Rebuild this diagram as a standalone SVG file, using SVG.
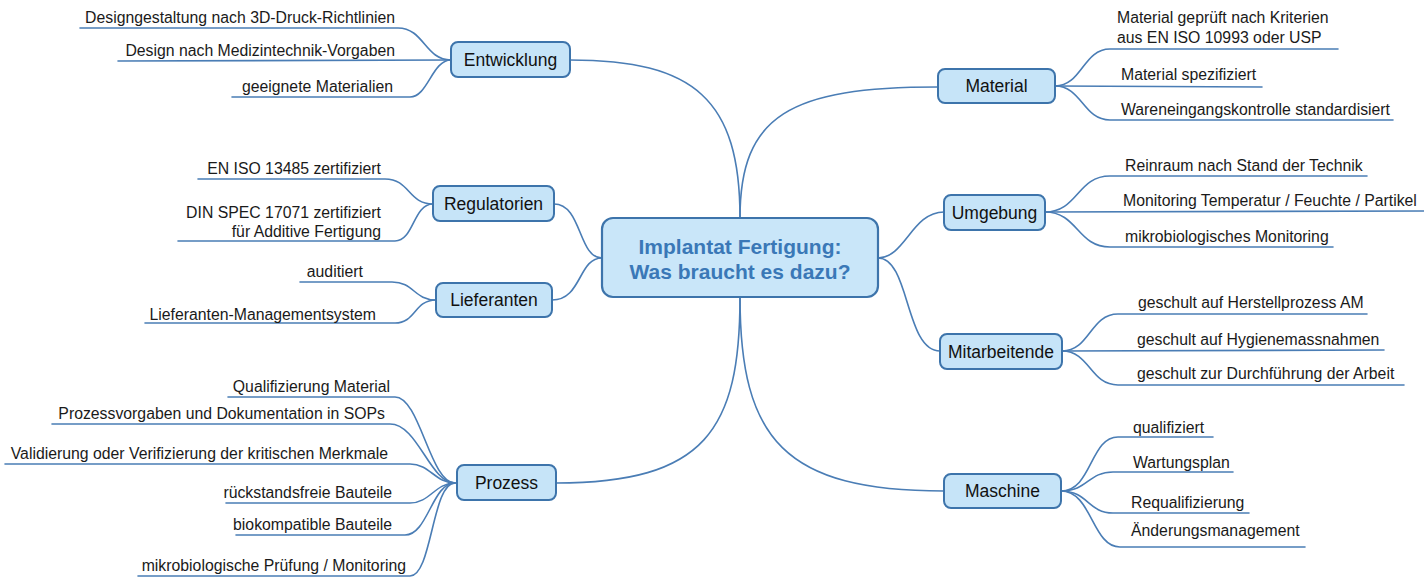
<svg xmlns="http://www.w3.org/2000/svg" width="1424" height="579" viewBox="0 0 1424 579">
  <style>
    .bg { fill: #ffffff; }
    .link { fill: none; stroke: #4a7db5; stroke-width: 1.6; stroke-linecap: round; }
    .box { fill: #c6e4f8; stroke: #3d74ab; stroke-width: 2; }
    .root { fill: #c9e6f9; stroke: #3d74ab; stroke-width: 2.2; }
    .ntext { font-family: "Liberation Sans", Arial, sans-serif; font-size: 17.5px; fill: #111111; text-anchor: middle; }
    .rtext { font-family: "Liberation Sans", Arial, sans-serif; font-size: 21px; font-weight: bold; fill: #3a78b7; text-anchor: middle; }
    .leaf { font-family: "Liberation Sans", Arial, sans-serif; font-size: 15.8px; fill: #1a1a1a; }
    .l { text-anchor: end; }
    .r { text-anchor: start; }
  </style>
  <rect class="bg" x="0" y="0" width="1424" height="579"/>

  <!-- connectors: center to main branches, and branch to leaves -->
  <g id="connectors">
    <!-- main branches -->
    <path class="link" d="M570,60 C695,60 740,100 740,218"/>
    <path class="link" d="M938,87 C790,87 740,115 740,218"/>
    <path class="link" d="M554,204 C582,204 578,258 602,258"/>
    <path class="link" d="M552,300 C582,300 578,258 602,258"/>
    <path class="link" d="M878,258 C905,258 912,212 944,212"/>
    <path class="link" d="M878,258 C910,258 905,351 940,351"/>
    <path class="link" d="M556,483 C705,483 740,430 740,297"/>
    <path class="link" d="M740,297 C740,440 785,491 944,491"/>

    <!-- Entwicklung leaves -->
    <path class="link" d="M451,60 C425,60 424,28 398,28 L80,28"/>
    <path class="link" d="M451,60 L118,61"/>
    <path class="link" d="M451,60 C432,60 428,97 410,97 L232,97"/>

    <!-- Regulatorien leaves -->
    <path class="link" d="M433,204 C408,204 410,179 385,179 L198,179"/>
    <path class="link" d="M433,204 C413,204 414,241 395,241 L178,241"/>

    <!-- Lieferanten leaves -->
    <path class="link" d="M436,300 C414,300 414,282 392,282 L300,282"/>
    <path class="link" d="M436,300 C414,300 416,323 395,323 L145,323"/>

    <!-- Prozess leaves -->
    <path class="link" d="M455,483 C430,483 420,397 395,397 L228,397"/>
    <path class="link" d="M455,483 C430,483 418,424 390,424 L52,424"/>
    <path class="link" d="M455,483 C435,483 430,464 410,464 L5,464"/>
    <path class="link" d="M455,483 C435,483 430,503 410,503 L226,503"/>
    <path class="link" d="M455,483 C432,483 428,535 405,535 L236,535"/>
    <path class="link" d="M455,483 C432,483 432,576 410,576 L138,576"/>

    <!-- Material leaves -->
    <path class="link" d="M1055,86 C1082,86 1083,49 1110,49 L1338,49"/>
    <path class="link" d="M1055,86 L1262,87"/>
    <path class="link" d="M1055,86 C1082,86 1083,120 1110,120 L1393,120"/>

    <!-- Umgebung leaves -->
    <path class="link" d="M1045,212 C1078,212 1077,176 1110,176 L1367,176"/>
    <path class="link" d="M1045,212 L1424,211"/>
    <path class="link" d="M1045,212 C1078,212 1077,247 1110,247 L1333,247"/>

    <!-- Mitarbeitende leaves -->
    <path class="link" d="M1062,351 C1090,351 1090,314 1118,314 L1367,314"/>
    <path class="link" d="M1062,351 L1384,350"/>
    <path class="link" d="M1062,351 C1090,351 1090,385 1118,385 L1404,385"/>

    <!-- Maschine leaves -->
    <path class="link" d="M1061,491 C1092,491 1090,437 1118,437 L1213,437"/>
    <path class="link" d="M1061,491 C1088,491 1088,472 1113,472 L1233,472"/>
    <path class="link" d="M1061,491 C1088,491 1088,513 1113,513 L1249,513"/>
    <path class="link" d="M1061,491 C1092,491 1092,547 1120,547 L1305,547"/>
  </g>

  <!-- central topic -->
  <g id="root">
    <rect class="root" x="602" y="218" width="276" height="79" rx="11"/>
    <text class="rtext" x="740" y="254">Implantat Fertigung:</text>
    <text class="rtext" x="740" y="279">Was braucht es dazu?</text>
  </g>

  <!-- left branches -->
  <g id="entwicklung">
    <rect class="box" x="451" y="42" width="119" height="35" rx="7"/>
    <text class="ntext" x="510.5" y="66">Entwicklung</text>
    <text class="leaf l" x="395" y="23">Designgestaltung nach 3D-Druck-Richtlinien</text>
    <text class="leaf l" x="395" y="56">Design nach Medizintechnik-Vorgaben</text>
    <text class="leaf l" x="393" y="92">geeignete Materialien</text>
  </g>

  <g id="regulatorien">
    <rect class="box" x="433" y="186" width="121" height="35" rx="7"/>
    <text class="ntext" x="493.5" y="210">Regulatorien</text>
    <text class="leaf l" x="381" y="174">EN ISO 13485 zertifiziert</text>
    <text class="leaf l" x="381" y="218">DIN SPEC 17071 zertifiziert</text>
    <text class="leaf l" x="381" y="237">für Additive Fertigung</text>
  </g>

  <g id="lieferanten">
    <rect class="box" x="436" y="283" width="116" height="34" rx="7"/>
    <text class="ntext" x="494" y="306">Lieferanten</text>
    <text class="leaf l" x="363" y="277">auditiert</text>
    <text class="leaf l" x="376" y="320">Lieferanten-Managementsystem</text>
  </g>

  <g id="prozess">
    <rect class="box" x="457" y="465" width="99" height="35" rx="7"/>
    <text class="ntext" x="506.5" y="489">Prozess</text>
    <text class="leaf l" x="390" y="392">Qualifizierung Material</text>
    <text class="leaf l" x="385" y="419">Prozessvorgaben und Dokumentation in SOPs</text>
    <text class="leaf l" x="388" y="459">Validierung oder Verifizierung der kritischen Merkmale</text>
    <text class="leaf l" x="392" y="498">rückstandsfreie Bauteile</text>
    <text class="leaf l" x="392" y="530">biokompatible Bauteile</text>
    <text class="leaf l" x="406" y="571">mikrobiologische Prüfung / Monitoring</text>
  </g>

  <!-- right branches -->
  <g id="material">
    <rect class="box" x="938" y="69" width="117" height="34" rx="7"/>
    <text class="ntext" x="996.5" y="92">Material</text>
    <text class="leaf r" x="1117" y="23">Material geprüft nach Kriterien</text>
    <text class="leaf r" x="1117" y="43">aus EN ISO 10993 oder USP</text>
    <text class="leaf r" x="1121" y="80">Material spezifiziert</text>
    <text class="leaf r" x="1121" y="115">Wareneingangskontrolle standardisiert</text>
  </g>

  <g id="umgebung">
    <rect class="box" x="944" y="195" width="101" height="35" rx="7"/>
    <text class="ntext" x="994.5" y="219">Umgebung</text>
    <text class="leaf r" x="1125" y="171">Reinraum nach Stand der Technik</text>
    <text class="leaf r" x="1123" y="206">Monitoring Temperatur / Feuchte / Partikel</text>
    <text class="leaf r" x="1125" y="242">mikrobiologisches Monitoring</text>
  </g>

  <g id="mitarbeitende">
    <rect class="box" x="940" y="334" width="122" height="35" rx="7"/>
    <text class="ntext" x="1001" y="358">Mitarbeitende</text>
    <text class="leaf r" x="1138" y="308">geschult auf Herstellprozess AM</text>
    <text class="leaf r" x="1137" y="345">geschult auf Hygienemassnahmen</text>
    <text class="leaf r" x="1137" y="379">geschult zur Durchführung der Arbeit</text>
  </g>

  <g id="maschine">
    <rect class="box" x="944" y="474" width="117" height="34" rx="7"/>
    <text class="ntext" x="1002.5" y="497">Maschine</text>
    <text class="leaf r" x="1133" y="433">qualifiziert</text>
    <text class="leaf r" x="1133" y="468">Wartungsplan</text>
    <text class="leaf r" x="1131" y="508">Requalifizierung</text>
    <text class="leaf r" x="1131" y="536">Änderungsmanagement</text>
  </g>
</svg>
